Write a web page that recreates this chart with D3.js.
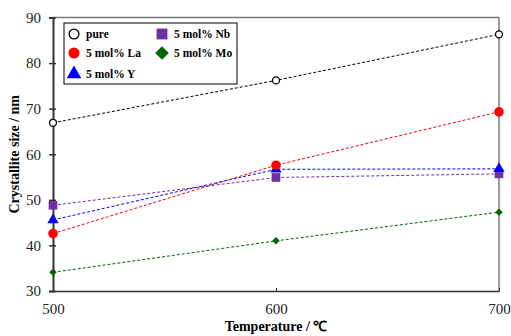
<!DOCTYPE html>
<html lang="en">
<head>
  <meta charset="UTF-8">
  <title>Crystallite size</title>
  <script src="https://d3js.org/d3.v7.min.js"></script>
  <style>
    body { margin: 0; background: #fff; }
    text { font-family: "Liberation Serif", "Times New Roman", serif; }
  </style>
</head>
<body>
  <div class="canvas"></div>
  <script>
    const temps = [500, 600, 700];
    const pure = [66.9, 76.2, 86.3];
    const la = [42.6, 57.6, 69.3];
    const y5 = [45.6, 56.7, 56.8];
    const nb = [48.8, 54.9, 55.7];
    const mo = [34.1, 41.0, 47.3];
    const yTicks = [30, 40, 50, 60, 70, 80, 90];

    const series = [
      { name: 'pure', values: pure, color: '#000', shape: 'open' },
      { name: '5 mol% La', values: la, color: '#ff0000', shape: 'circle' },
      { name: '5 mol% Y', values: y5, color: '#0000ff', shape: 'triangle' },
      { name: '5 mol% Nb', values: nb, color: '#7030a0', shape: 'square' },
      { name: '5 mol% Mo', values: mo, color: '#006400', shape: 'diamond' }
    ];

    const W = 511, H = 336;
    const margin = { top: 17.5, right: 12, bottom: 45, left: 53 };
    const svg = d3.select('.canvas').append('svg')
      .attr('width', W).attr('height', H);

    const x = d3.scaleLinear().domain([500, 700]).range([margin.left, W - margin.right]);
    const y = d3.scaleLinear().domain([30, 90]).range([H - margin.bottom, margin.top]);

    // frame: top and right gray
    svg.append('line').attr('x1', x(500)).attr('x2', x(700)).attr('y1', y(90)).attr('y2', y(90))
      .attr('stroke', '#777').attr('stroke-width', 1.5);
    svg.append('line').attr('x1', x(700)).attr('x2', x(700)).attr('y1', y(90)).attr('y2', y(30))
      .attr('stroke', '#777').attr('stroke-width', 1.5);

    // y axis
    const yAxis = svg.append('g')
      .attr('transform', `translate(${x(500)},0)`)
      .call(d3.axisLeft(y).tickValues(yTicks).tickSize(4).tickPadding(8));
    yAxis.select('.domain').attr('stroke', '#333').attr('stroke-width', 2);
    yAxis.selectAll('.tick line').attr('stroke', '#333').attr('stroke-width', 1.5)
      .attr('x1', 3);
    yAxis.selectAll('.tick text').attr('font-size', 15).attr('fill', '#222')
      .style('font-family', '"Liberation Serif", serif');

    // x axis
    const xAxis = svg.append('g')
      .attr('transform', `translate(0,${y(30)})`)
      .call(d3.axisBottom(x).tickValues(temps).tickSize(0).tickPadding(12).tickFormat(d3.format('d')));
    xAxis.select('.domain').attr('stroke', '#333').attr('stroke-width', 1.5);
    xAxis.selectAll('.tick line').attr('stroke', '#333').attr('y2', -3).attr('stroke-width', 1);
    xAxis.selectAll('.tick text').attr('font-size', 15).attr('fill', '#222')
      .style('font-family', '"Liberation Serif", serif');

    // axis titles
    svg.append('text')
      .attr('x', x(600)).attr('y', 331)
      .attr('text-anchor', 'middle')
      .attr('font-size', 14).attr('font-weight', 'bold')
      .text('Temperature / ℃');
    svg.append('text')
      .attr('transform', `translate(19,${(y(30) + y(90)) / 2}) rotate(-90)`)
      .attr('text-anchor', 'middle')
      .attr('font-size', 14).attr('font-weight', 'bold')
      .text('Crystallite size / nm');

    const line = d3.line().x((d, i) => x(temps[i])).y(d => y(d));

    // lines
    svg.selectAll('.series-line')
      .data(series)
      .enter().append('path')
      .attr('class', 'series-line')
      .attr('d', d => line(d.values))
      .attr('fill', 'none')
      .attr('stroke', d => d.color)
      .attr('stroke-width', 1)
      .attr('stroke-dasharray', '3,2');

    // k scales marker size (1 in plot, bigger in legend)
    function drawMarker(g, s, k) {
      if (s.shape === 'open') {
        g.append('circle').attr('r', 3.5 * k).attr('fill', '#fff')
          .attr('stroke', '#000').attr('stroke-width', 1.3);
      } else if (s.shape === 'circle') {
        g.append('circle').attr('r', 4.8 * k).attr('fill', s.color);
      } else if (s.shape === 'square') {
        g.append('path').attr('d', d3.symbol().type(d3.symbolSquare).size(75 * k * k)()).attr('fill', s.color);
      } else if (s.shape === 'triangle') {
        g.append('path').attr('d', d3.symbol().type(d3.symbolTriangle).size(55 * k * k)()).attr('fill', s.color);
      } else {
        g.append('path').attr('d', d3.symbol().type(d3.symbolSquare).size(28 * k * k)())
          .attr('transform', 'rotate(45)').attr('fill', s.color);
      }
    }

    // markers, drawn in reverse so pure/La stay on top
    series.slice().reverse().forEach(s => {
      s.values.forEach((v, i) => {
        const g = svg.append('g').attr('transform', `translate(${x(temps[i])},${y(v)})`);
        drawMarker(g, s, 1);
      });
    });

    // legend
    const lg = svg.append('g').attr('transform', 'translate(64,23)');
    lg.append('rect').attr('width', 173).attr('height', 61)
      .attr('fill', '#fff').attr('stroke', '#000').attr('stroke-width', 1);
    const legendPos = [
      [10, 11], [10, 30], [10, 51], [98, 11], [98, 30]
    ];
    const legendScale = [1.4, 1.15, 1.3, 1.25, 1.8];
    series.forEach((s, i) => {
      const [lx, ly] = legendPos[i];
      const g = lg.append('g').attr('transform', `translate(${lx},${ly})`);
      drawMarker(g, s, legendScale[i]);
      lg.append('text')
        .attr('x', lx + 12).attr('y', ly + 4)
        .attr('font-size', 11.5).attr('font-weight', 'bold')
        .text(s.name);
    });
  </script>
</body>
</html>
